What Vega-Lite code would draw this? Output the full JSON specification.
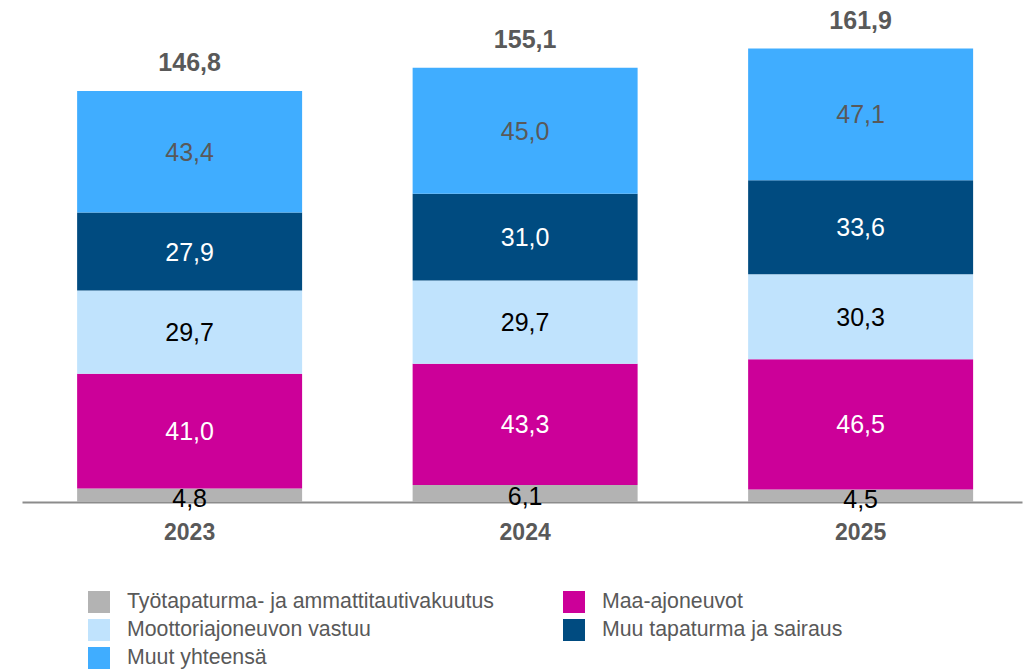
{
  "$schema": "https://vega.github.io/schema/vega-lite/v6.json",
  "width": 1000,
  "height": 476,
  "autosize": {"type": "none"},
  "padding": {"left": 22, "top": 26, "right": 2, "bottom": 168},
  "config": {
    "font": "Liberation Sans",
    "view": {"stroke": null},
    "locale": {"number": {"decimal": ",", "thousands": " ", "grouping": [3], "currency": ["", " €"]}}
  },
  "datasets": {
    "segments": [
      {"year": "2023", "series": "Työtapaturma- ja ammattitautivakuutus", "ord": 1, "value": 4.8},
      {"year": "2023", "series": "Maa-ajoneuvot", "ord": 2, "value": 41.0},
      {"year": "2023", "series": "Moottoriajoneuvon vastuu", "ord": 3, "value": 29.7},
      {"year": "2023", "series": "Muu tapaturma ja sairaus", "ord": 4, "value": 27.9},
      {"year": "2023", "series": "Muut yhteensä", "ord": 5, "value": 43.4},
      {"year": "2024", "series": "Työtapaturma- ja ammattitautivakuutus", "ord": 1, "value": 6.1},
      {"year": "2024", "series": "Maa-ajoneuvot", "ord": 2, "value": 43.3},
      {"year": "2024", "series": "Moottoriajoneuvon vastuu", "ord": 3, "value": 29.7},
      {"year": "2024", "series": "Muu tapaturma ja sairaus", "ord": 4, "value": 31.0},
      {"year": "2024", "series": "Muut yhteensä", "ord": 5, "value": 45.0},
      {"year": "2025", "series": "Työtapaturma- ja ammattitautivakuutus", "ord": 1, "value": 4.5},
      {"year": "2025", "series": "Maa-ajoneuvot", "ord": 2, "value": 46.5},
      {"year": "2025", "series": "Moottoriajoneuvon vastuu", "ord": 3, "value": 30.3},
      {"year": "2025", "series": "Muu tapaturma ja sairaus", "ord": 4, "value": 33.6},
      {"year": "2025", "series": "Muut yhteensä", "ord": 5, "value": 47.1}
    ],
    "totals": [
      {"year": "2023", "total": 146.8},
      {"year": "2024", "total": 155.1},
      {"year": "2025", "total": 161.9}
    ]
  },
  "layer": [
    {
      "data": {"name": "segments"},
      "mark": {"type": "bar"},
      "encoding": {
        "x": {
          "field": "year", "type": "nominal",
          "scale": {"paddingInner": 0.3294, "paddingOuter": 0.155, "align": 0.53},
          "axis": {"title": null, "domainColor": "#8c8c8c", "domainWidth": 2, "ticks": false, "tickSize": 0, "labelFontSize": 23, "labelFontWeight": "bold", "labelColor": "#595959", "labelPadding": 19, "labelAngle": 0, "grid": false}
        },
        "y": {"field": "value", "type": "quantitative", "stack": "zero", "scale": {"domain": [0, 170], "nice": false}, "axis": null},
        "color": {
          "field": "series", "type": "nominal",
          "scale": {
            "domain": ["Työtapaturma- ja ammattitautivakuutus", "Maa-ajoneuvot", "Moottoriajoneuvon vastuu", "Muu tapaturma ja sairaus", "Muut yhteensä"],
            "range": ["#b3b3b3", "#cc0099", "#c0e3fd", "#004b80", "#40adff"]
          },
          "legend": {"orient": "none", "direction": "horizontal", "legendX": 66, "legendY": 565, "columns": 2, "columnPadding": 69, "rowPadding": 6, "symbolType": "square", "symbolSize": 484, "symbolStrokeWidth": 0, "labelFontSize": 21.3, "labelColor": "#595959", "labelOffset": 17, "labelLimit": 600, "title": null, "padding": 0}
        },
        "order": {"field": "ord", "type": "quantitative"}
      }
    },
    {
      "data": {"name": "segments"},
      "mark": {"type": "text", "fontSize": 25, "dy": 1},
      "encoding": {
        "x": {"field": "year", "type": "nominal"},
        "y": {"field": "value", "type": "quantitative", "stack": "zero", "bandPosition": 0.5},
        "text": {"condition": {"test": "datum.ord == 1", "value": ""}, "field": "value", "type": "quantitative", "format": ".1f"},
        "color": {
          "field": "series", "type": "nominal",
          "scale": {
            "domain": ["Työtapaturma- ja ammattitautivakuutus", "Maa-ajoneuvot", "Moottoriajoneuvon vastuu", "Muu tapaturma ja sairaus", "Muut yhteensä"],
            "range": ["#000000", "#ffffff", "#000000", "#ffffff", "#595959"]
          },
          "legend": null
        },
        "order": {"field": "ord", "type": "quantitative"}
      }
    },
    {
      "data": {"name": "segments"},
      "transform": [{"filter": "datum.ord == 1"}],
      "mark": {"type": "text", "fontSize": 25, "color": "#000000", "dy": 4},
      "encoding": {
        "x": {"field": "year", "type": "nominal"},
        "y": {"field": "value", "type": "quantitative", "stack": "zero", "bandPosition": 0.5},
        "text": {"field": "value", "type": "quantitative", "format": ".1f"}
      }
    },
    {
      "data": {"name": "totals"},
      "mark": {"type": "text", "fontSize": 25, "fontWeight": "bold", "color": "#595959", "dy": -28},
      "encoding": {
        "x": {"field": "year", "type": "nominal"},
        "y": {"field": "total", "type": "quantitative"},
        "text": {"field": "total", "type": "quantitative", "format": ".1f"}
      }
    }
  ],
  "resolve": {"scale": {"color": "independent"}}
}
